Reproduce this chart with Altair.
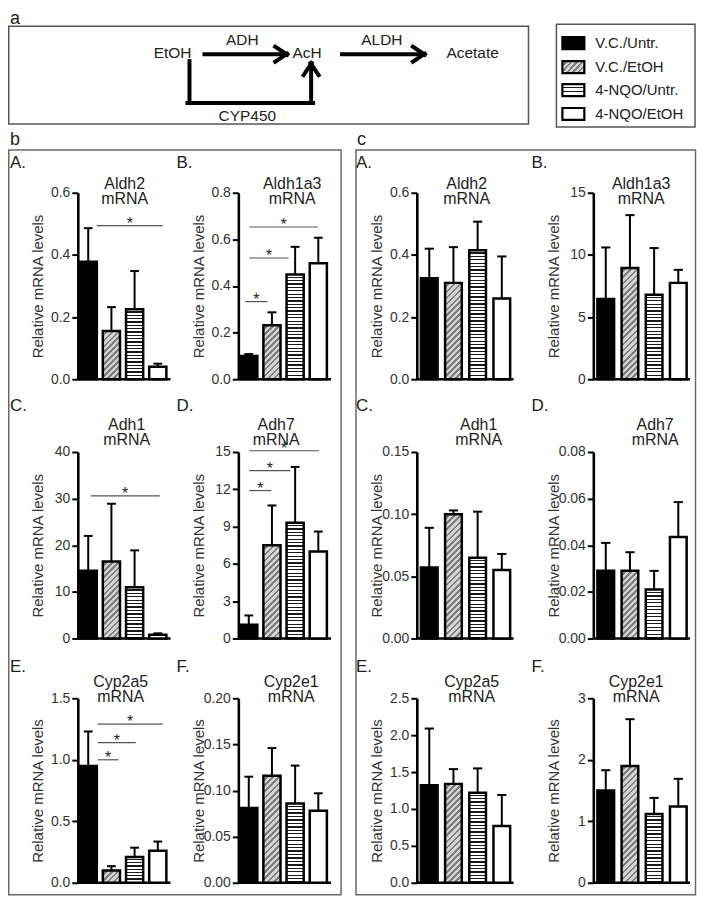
import math
import altair as alt
import pandas as pd

# ---------------- data ----------------
GROUPS = ["V.C./Untr.", "V.C./EtOH", "4-NQO/Untr.", "4-NQO/EtOH"]
GENES = ["Aldh2", "Aldh1a3", "Adh1", "Adh7", "Cyp2a5", "Cyp2e1"]
LETTERS = ["A.", "B.", "C.", "D.", "E.", "F."]
Y_TITLE = "Relative mRNA levels"

# panel b (mean, top of error bar)
B_ALDH2_MEAN = [0.378, 0.155, 0.225, 0.040]
B_ALDH2_UPPER = [0.486, 0.232, 0.348, 0.050]
B_ALDH1A3_MEAN = [0.100, 0.232, 0.449, 0.498]
B_ALDH1A3_UPPER = [0.108, 0.287, 0.568, 0.607]
B_ADH1_MEAN = [14.5, 16.5, 11.0, 0.8]
B_ADH1_UPPER = [22.0, 28.9, 18.9, 1.1]
B_ADH7_MEAN = [1.1, 7.5, 9.3, 7.0]
B_ADH7_UPPER = [1.85, 10.7, 13.8, 8.6]
B_CYP2A5_MEAN = [0.95, 0.10, 0.21, 0.26]
B_CYP2A5_UPPER = [1.23, 0.135, 0.285, 0.335]
B_CYP2E1_MEAN = [0.081, 0.116, 0.086, 0.078]
B_CYP2E1_UPPER = [0.115, 0.146, 0.127, 0.097]

# panel c
C_ALDH2_MEAN = [0.325, 0.310, 0.415, 0.260]
C_ALDH2_UPPER = [0.420, 0.425, 0.507, 0.395]
C_ALDH1A3_MEAN = [6.45, 8.95, 6.8, 7.75]
C_ALDH1A3_UPPER = [10.6, 13.2, 10.55, 8.8]
C_ADH1_MEAN = [0.057, 0.100, 0.065, 0.055]
C_ADH1_UPPER = [0.089, 0.103, 0.102, 0.068]
C_ADH7_MEAN = [0.029, 0.029, 0.021, 0.0435]
C_ADH7_UPPER = [0.041, 0.037, 0.029, 0.0585]
C_CYP2A5_MEAN = [1.32, 1.34, 1.22, 0.77]
C_CYP2A5_UPPER = [2.09, 1.54, 1.55, 1.19]
C_CYP2E1_MEAN = [1.50, 1.90, 1.12, 1.24]
C_CYP2E1_UPPER = [1.83, 2.66, 1.38, 1.69]

# significance comparisons (group a, group b, level)
B_ALDH2_SIG = [(0, 3, 0.494)]
B_ALDH1A3_SIG = [(0, 3, 0.653), (0, 2, 0.52), (0, 1, 0.333)]
B_ADH1_SIG = [(0, 3, 30.6)]
B_ADH7_SIG = [(0, 3, 15.1), (0, 2, 13.5), (0, 1, 11.9)]
B_CYP2A5_SIG = [(0, 3, 1.29), (0, 2, 1.14), (0, 1, 1.0)]

# y axes: (max, ticks, format)
B_AXES = [(0.6, [0, 0.2, 0.4, 0.6], ".1f"),
          (0.8, [0, 0.2, 0.4, 0.6, 0.8], ".1f"),
          (40, [0, 10, 20, 30, 40], "d"),
          (15, [0, 3, 6, 9, 12, 15], "d"),
          (1.5, [0, 0.5, 1.0, 1.5], ".1f"),
          (0.20, [0, 0.05, 0.10, 0.15, 0.20], ".2f")]
C_AXES = [(0.6, [0, 0.2, 0.4, 0.6], ".1f"),
          (15, [0, 5, 10, 15], "d"),
          (0.15, [0, 0.05, 0.10, 0.15], ".2f"),
          (0.08, [0, 0.02, 0.04, 0.06, 0.08], ".2f"),
          (2.5, [0, 0.5, 1.0, 1.5, 2.0, 2.5], ".1f"),
          (3, [0, 1, 2, 3], "d")]

B_MEANS = [B_ALDH2_MEAN, B_ALDH1A3_MEAN, B_ADH1_MEAN, B_ADH7_MEAN, B_CYP2A5_MEAN, B_CYP2E1_MEAN]
B_UPPERS = [B_ALDH2_UPPER, B_ALDH1A3_UPPER, B_ADH1_UPPER, B_ADH7_UPPER, B_CYP2A5_UPPER, B_CYP2E1_UPPER]
B_SIGS = [B_ALDH2_SIG, B_ALDH1A3_SIG, B_ADH1_SIG, B_ADH7_SIG, B_CYP2A5_SIG, []]
C_MEANS = [C_ALDH2_MEAN, C_ALDH1A3_MEAN, C_ADH1_MEAN, C_ADH7_MEAN, C_CYP2A5_MEAN, C_CYP2E1_MEAN]
C_UPPERS = [C_ALDH2_UPPER, C_ALDH1A3_UPPER, C_ADH1_UPPER, C_ADH7_UPPER, C_CYP2A5_UPPER, C_CYP2E1_UPPER]
C_SIGS = [[], [], [], [], [], []]

# pathway diagram and section labels
PATH_WORDS = ["EtOH", "ADH", "AcH", "ALDH", "Acetate", "CYP450"]
SECTION_LABELS = ["a", "b", "c"]

# ---------------- styles / layout (pixels) ----------------
FONT = "Liberation Sans"
TXT = "#222222"
PLOT_W = {"b": 93, "c": 97}
PLOT_H = [187, 187, 185]
CELL_W = [161, 179, 177, 97]     # distance between plot origins (columns)
CELL_H = [260, 247, 185]         # distance between plot origins (rows)
BAR_SPAN = {"b": (0.08, 0.82), "c": (0.17, 0.86)}
CAP = 0.19
TITLE_Y = [(-9, 6), (-27, -12), (-16, -1)]
LETTER_Y = [-30, -46, -31]
TITLE_X = {"b": [47, 54, 49, 38, 43, 53], "c": [50, 48, 62, 62, 55, 43]}
LETTER_X = {"b": [-68, -62], "c": [-61, -62]}
SIG_OFF = {"b": [[(0.37, 0.21)],
                 [(0.03, -0.02), (0.03, -0.28), (-0.15, -0.19)],
                 [(0.11, 0.08)],
                 [(0.02, 0.03), (0.02, -0.21), (0.02, -0.03)],
                 [(0.41, 0.21), (0.41, 0.05), (0.41, 0.31)],
                 []],
           "c": [[], [], [], [], [], []]}
OX, OY = 78, 191   # page position of first plot origin


def stop(o, c):
    return alt.GradientStop(offset=round(min(max(o, 0), 1), 5), color=c)


def stripe_stops(n, c1, c2, frac2):
    s = []
    for k in range(n):
        a, b, e = k / n, (k + 1 - frac2) / n, (k + 1) / n
        s += [stop(a, c1), stop(b, c1), stop(b, c2), stop(e, c2)]
    return s


def hstripe_fill(h, period=3.4):
    n = max(1, int(round(h / period)))
    return alt.LinearGradient(gradient="linear", stops=stripe_stops(n, "#ffffff", "#1a1a1a", 0.38),
                              x1=0, y1=0, x2=0, y2=1)


def hatch_fill(w, h, period=4.3):
    w, h = max(w, 1.0), max(h, 1.0)
    n = max(1, int(round((w + h) / (math.sqrt(2) * period))))
    c = (w + h) / (w * w + h * h)
    return alt.LinearGradient(gradient="linear", stops=stripe_stops(n, "#d4d4d4", "#7d7d7d", 0.45),
                              x1=0, y1=0, x2=round(c * w, 5), y2=round(c * h, 5))


def fills_for(w, h_list):
    return ["#000000", hatch_fill(w, h_list[1]), hstripe_fill(h_list[2]), "#ffffff"]


def one(**kw):
    return pd.DataFrame({k: [v] for k, v in kw.items()})


def text_layer(t, x, y, size, align="left", baseline="middle", color=TXT):
    return alt.Chart(one(t=t)).mark_text(
        fontSize=size, align=align, baseline=baseline, color=color, font=FONT
    ).encode(x=alt.value(x), y=alt.value(y), text="t:N")


def seg_layer(segs, width, color="black", cap="butt"):
    df = pd.DataFrame(segs, columns=["x1", "y1", "x2", "y2"])
    df[["x1", "x2"]] -= OX
    df[["y1", "y2"]] -= OY
    return alt.Chart(df).mark_rule(color=color, strokeWidth=width, strokeCap=cap).encode(
        x=alt.X("x1:Q", scale=None), y=alt.Y("y1:Q", scale=None),
        x2="x2:Q", y2="y2:Q")


def box_layer(x1, y1, x2, y2, color, width):
    return alt.Chart(one(a=0)).mark_rect(fill="#ffffff", fillOpacity=0, stroke=color, strokeWidth=width).encode(
        x=alt.value(x1 - OX), x2=alt.value(x2 - OX), y=alt.value(y1 - OY), y2=alt.value(y2 - OY))


def header_layers():
    L = []
    # invisible anchor fixing the page origin
    L.append(alt.Chart(one(a=0)).mark_rect(opacity=0).encode(
        x=alt.value(8 - OX), x2=alt.value(9 - OX), y=alt.value(8 - OY), y2=alt.value(9 - OY)))
    # section labels
    L.append(text_layer(SECTION_LABELS[0], 10 - OX, 21.5 - OY, 18, baseline="alphabetic"))
    L.append(text_layer(SECTION_LABELS[1], 10 - OX, 143 - OY, 18, baseline="alphabetic"))
    L.append(text_layer(SECTION_LABELS[2], 358 - OX, 143 - OY, 18, baseline="alphabetic"))
    # boxes
    L.append(box_layer(8.75, 24, 530, 122, "#555555", 1.5))
    L.append(box_layer(558, 22, 697, 125, "#555555", 1.5))
    L.append(box_layer(8.75, 148, 342, 895, "#6a6a6a", 1.5))
    L.append(box_layer(357, 148, 697.5, 895, "#6a6a6a", 1.5))
    # pathway arrows
    segs = [
        (205, 52, 287, 52), (276, 44.5, 288, 52.5), (276, 59.5, 288, 51.5),
        (343, 52, 425, 52), (414, 44.5, 426, 52.5), (414, 59.5, 426, 51.5),
        (190, 59, 190, 101), (188, 101, 314, 101), (312, 101, 312, 63),
        (304.5, 73, 312.5, 61), (319.5, 73, 311.5, 61),
    ]
    L.append(seg_layer(segs, 4, cap="square"))
    word_pos = [(173, 51), (243, 38), (308, 51), (383, 38), (474, 51), (248, 114)]
    for w, (x, y) in zip(PATH_WORDS, word_pos):
        L.append(text_layer(w, x - OX, y - OY, 15.5, align="center"))
    # legend
    ys = [41, 65, 88, 112]
    fl = fills_for(23, [12, 12, 12, 12])
    fl[2] = hstripe_fill(12, period=4.0)
    for g, yy in enumerate(ys):
        L.append(alt.Chart(one(a=0)).mark_rect(fill=fl[g], stroke="black", strokeWidth=2.2).encode(
            x=alt.value(564 - OX), x2=alt.value(586 - OX), y=alt.value(yy - 6 - OY), y2=alt.value(yy + 6 - OY)))
        L.append(text_layer(GROUPS[g], 597 - OX, yy - OY, 15))
    return L


def make_panel(col, idx, cell_w, cell_h, extra=None):
    row = idx // 2
    cpos = idx % 2
    W, H = PLOT_W[col], PLOT_H[row]
    means = (B_MEANS if col == "b" else C_MEANS)[idx]
    uppers = (B_UPPERS if col == "b" else C_UPPERS)[idx]
    sigs = (B_SIGS if col == "b" else C_SIGS)[idx]
    ymax, ticks, fmt = (B_AXES if col == "b" else C_AXES)[idx]
    bl, br = BAR_SPAN[col]
    xc_off = (bl + br) / 2

    df = pd.DataFrame({"g": list(range(4)), "group": GROUPS, "mean": means, "upper": uppers})
    df["x0"] = df["g"] + bl
    df["x1"] = df["g"] + br
    df["xc"] = df["g"] + xc_off
    df["cl"] = df["xc"] - CAP
    df["cr"] = df["xc"] + CAP
    df["base"] = 0.0

    xs = alt.Scale(domain=[0, 4], nice=False, zero=False, range=[0, W])
    ysc = alt.Scale(domain=[0, ymax], nice=False, zero=True, range=[H, 0])
    yax = alt.Axis(values=ticks, format=fmt, grid=False, tickSize=6, tickWidth=2,
                   tickColor="black", domainColor="black", domainWidth=2.6,
                   labelFontSize=14, labelColor="#333333", labelPadding=2, labelFont=FONT,
                   labelFlush=False, labelOverlap=False,
                   title=Y_TITLE, titleFontSize=15, titleFontWeight="normal", titleColor="#333333",
                   titleFont=FONT, titleAngle=270, titleX=-40, titleY=H / 2,
                   titleAlign="center", titleBaseline="middle")

    def X(f):
        return alt.X(f"{f}:Q", scale=xs, axis=None)

    def Y(f):
        return alt.Y(f"{f}:Q", scale=ysc, axis=yax)

    layers = []
    # x axis line
    layers.append(alt.Chart(one(a=0.0, b=4.0, z=0.0)).mark_rule(
        color="black", strokeWidth=2.6).encode(x=X("a"), x2="b:Q", y=Y("z")))
    layers.append(alt.Chart(df).mark_rule(color="black", strokeWidth=2).encode(
        x=X("xc"), y=Y("mean"), y2="upper:Q"))
    layers.append(alt.Chart(df).mark_rule(color="black", strokeWidth=2).encode(
        x=X("cl"), x2="cr:Q", y=Y("upper")))
    w_px = (br - bl) * W / 4
    h_px = [m / ymax * H for m in means]
    fills = fills_for(w_px, h_px)
    for g in range(4):
        layers.append(alt.Chart(df.iloc[[g]]).mark_rect(
            fill=fills[g], stroke="black", strokeWidth=2.5).encode(
            x=X("x0"), x2="x1:Q", y=Y("mean"), y2="base:Q"))
    if sigs:
        offs = SIG_OFF[col][idx]
        sdf = pd.DataFrame({
            "xs": [a + xc_off + o[0] for (a, b, v), o in zip(sigs, offs)],
            "xe": [b + xc_off + o[1] for (a, b, v), o in zip(sigs, offs)],
            "lv": [v for (a, b, v) in sigs],
        })
        sdf["xm"] = (sdf["xs"] + sdf["xe"]) / 2
        sdf["star"] = "*"
        layers.append(alt.Chart(sdf).mark_rule(color="#555555", strokeWidth=1.2).encode(
            x=X("xs"), x2="xe:Q", y=Y("lv")))
        layers.append(alt.Chart(sdf).mark_text(fontSize=16, dy=3, baseline="alphabetic",
                                               color=TXT, font=FONT).encode(
            x=X("xm"), y=Y("lv"), text="star:N"))
    # titles and panel letters
    t1, t2 = TITLE_Y[row]
    tx = TITLE_X[col][idx]
    layers.append(text_layer(GENES[idx], tx, t1, 16, align="center"))
    layers.append(text_layer("mRNA", tx, t2, 16, align="center"))
    layers.append(text_layer(LETTERS[idx], LETTER_X[col][cpos], LETTER_Y[row], 17))
    if extra:
        layers = extra + layers
    return alt.layer(*layers).properties(width=cell_w, height=cell_h)


cells = []
for r in range(3):
    order = [("b", 2 * r), ("b", 2 * r + 1), ("c", 2 * r), ("c", 2 * r + 1)]
    for ci, (col, idx) in enumerate(order):
        extra = header_layers() if (r == 0 and ci == 0) else None
        cells.append(make_panel(col, idx, CELL_W[ci], CELL_H[r], extra))

chart = alt.concat(
    *cells, columns=4, spacing=0, bounds="flush", align="each"
).properties(padding=0).configure(font=FONT).configure_view(
    stroke="transparent", strokeWidth=0, fill="transparent"
)

chart.save("out.html", embed_options={"renderer": "svg", "actions": False})
